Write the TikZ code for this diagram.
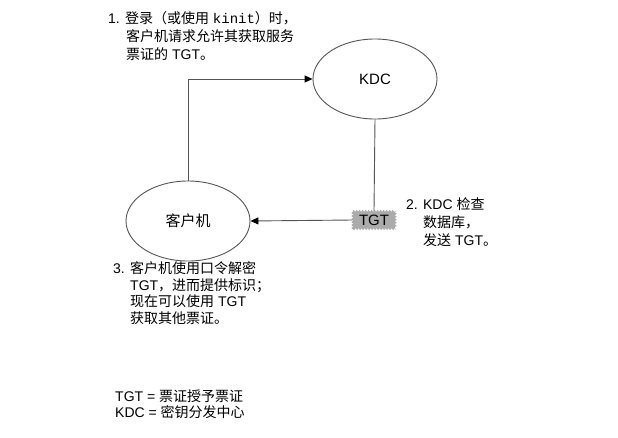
\documentclass[tikz,border=0pt]{standalone}
\usepackage{fontspec}
\setmainfont{Liberation Sans}
\newfontfamily\cjk{Noto Sans CJK SC}
\newfontfamily\monofont{Liberation Mono}
\usetikzlibrary{shapes.geometric,arrows.meta,decorations.pathmorphing}
\definecolor{linegray}{HTML}{555555}
\definecolor{ticketgray}{HTML}{ABABAB}
\begin{document}
\begin{tikzpicture}[x=1pt,y=-1pt,
  every node/.style={font=\fontsize{14}{17}\selectfont, text=black},
  lbl/.style={anchor=base west, inner sep=0pt},
  oval/.style={ellipse, draw=linegray, line width=0.9pt, minimum width=124pt, minimum height=80pt, inner sep=0pt, font=\fontsize{15}{18}\selectfont},
  conn/.style={draw=linegray, line width=0.9pt},
  arr/.style={conn, -{Triangle[length=8pt,width=7pt,color=black,fill=black]}}]
\useasboundingbox[fill=white] (0,0) rectangle (618,437);

\node[oval] (kdc) at (375,79) {KDC};
\node[oval] (client) at (188,221) {\cjk 客户机};
\node[inner sep=0pt, minimum width=43pt, minimum height=18pt] (tgt) at (374,220) {};
\fill[ticketgray, decorate, decoration={zigzag, segment length=3pt, amplitude=1pt}]
  (tgt.north west) rectangle (tgt.south east);
\node[inner sep=0pt, font=\fontsize{15}{18}\selectfont] (tgtlabel) at (tgt.center) {TGT};

\draw[arr] (client.north) |- (kdc.west);
\draw[conn] (kdc.south) -- (tgt.north);
\draw[arr] (tgt.west) -- (client.east);

% block 1
\node[lbl] (t1a) at (108,23) {1. {\cjk 登录（或使用} {\monofont kinit}{\cjk ）时，}};
\node[lbl] (t1b) at (126,41) {\cjk 客户机请求允许其获取服务};
\node[lbl] (t1c) at (126,59) {{\cjk 票证的} TGT{\cjk 。}};
% block 2
\node[lbl] (t2a) at (406,209) {2. KDC {\cjk 检查}};
\node[lbl] (t2b) at (423,227) {\cjk 数据库，};
\node[lbl] (t2c) at (423,245) {{\cjk 发送} TGT{\cjk 。}};
% block 3
\node[lbl] (t3a) at (113,273) {3. {\cjk 客户机使用口令解密}};
\node[lbl] (t3b) at (130,290) {TGT{\cjk ，进而提供标识；}};
\node[lbl] (t3c) at (130,306) {{\cjk 现在可以使用} TGT};
\node[lbl] (t3d) at (130,323) {\cjk 获取其他票证。};
% legend
\node[lbl] (t4a) at (115,401) {TGT = {\cjk 票证授予票证}};
\node[lbl] (t4b) at (115,417) {KDC = {\cjk 密钥分发中心}};
\end{tikzpicture}
\end{document}
